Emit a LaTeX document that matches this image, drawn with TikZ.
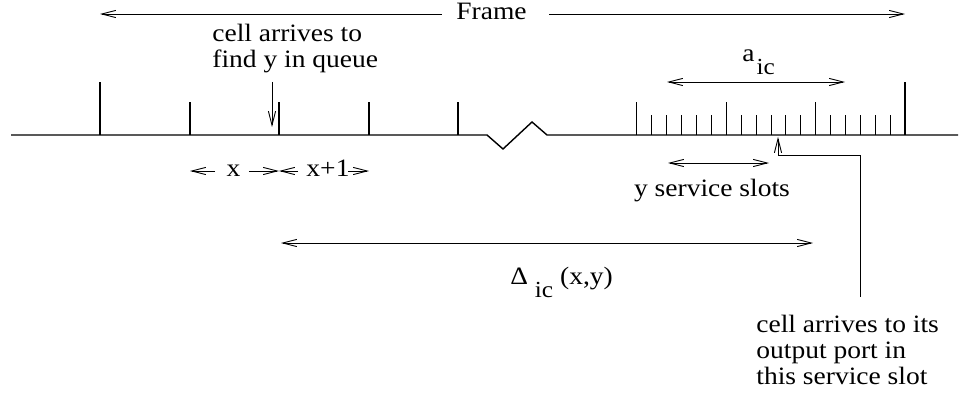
\documentclass[tikz,border=0pt]{standalone}
\usepackage{fontspec}
\setmainfont{Liberation Serif}[FakeStretch=1.1]
\usetikzlibrary{arrows.meta,positioning}
\newcommand{\lowsub}[1]{\raisebox{-6.3pt}{\fontsize{11.5}{13}\selectfont #1}}

\begin{document}
\begin{tikzpicture}[x=0.5pt, y=-0.5pt,
  axis/.style={line width=0.7pt},
  tick/.style={line width=0.6pt},
  minor/.style={line width=0.45pt},
  ptr/.style={line width=0.45pt, -{Straight Barb[length=7pt,width=3.6pt]}},
  dim/.style={line width=0.45pt, {Straight Barb[length=7pt,width=3.6pt]}-{Straight Barb[length=7pt,width=3.6pt]}},
  lbl/.style={font=\fontsize{12.5}{13}\selectfont, inner sep=0pt, align=left}]
  \useasboundingbox (0,0) rectangle (959,394);

  % time axis with the break
  \coordinate (start) at (11,135);
  \coordinate (brkL) at (487,135);
  \coordinate (brkR) at (547,135);
  \coordinate (stop) at (958,135);
  \draw[axis] (start) -- (brkL) -- (503,149) -- (532,122) -- (brkR) -- (stop);

  % frame boundaries and slots
  \coordinate (f0) at (100,135);
  \coordinate (f1) at (905,135);
  \draw[tick] (f0) -- ++(0,-53);
  \draw[tick] (f1) -- ++(0,-53);
  \foreach \x [count=\n] in {190,279,369,458}
    \draw[tick] (\x,135) coordinate (s\n) -- ++(0,-33);
  \foreach \i in {0,1,2} {
    \draw[tick] ({636.7+89.5*\i},135) -- ++(0,-33);
    \foreach \j in {1,...,5}
      \draw[minor] ({636.7+89.5*\i+14.92*\j},135) -- ++(0,-20);
  }

  % frame length
  \node[lbl, anchor=base] (frame) at (491.5,20) {Frame};
  \coordinate (fl) at (100,14);
  \coordinate (fr) at (905,14);
  \draw[ptr] ([xshift=-7pt]frame.west |- fl) -- (fl);
  \draw[ptr] ([xshift=11pt]frame.east |- fr) -- (fr);

  % arrival of the cell
  \node[lbl, anchor=base west] (arrive) at (212,68) {cell arrives to\\find y in queue};
  \coordinate (drop) at (272,127);
  \draw[ptr] (272,82) -- (drop);

  % slot widths
  \node[lbl] (xlab) at (233.5,171) {x};
  \node[lbl, anchor=base] (xonelab) at (328,177) {x+1};
  \draw[ptr] ([xshift=-5.5pt]xlab.west) -- (xlab.west -| s1);
  \draw[ptr] ([xshift=4pt]xlab.east) -- (xlab.east -| s2);
  \draw[ptr] ([xshift=-4pt]xonelab.west |- xlab.west) -- (xlab.west -| s2);
  \draw[ptr] ([xshift=-1pt]xonelab.east |- xlab.east) -- (xlab.east -| s3);

  % service slots
  \node[lbl, anchor=base west] (alab) at (742,62) {a\kern1pt\lowsub{ic}};
  \coordinate (aL) at (667,82);
  \coordinate (aR) at (845,82);
  \draw[dim] (aL) -- (aR);

  \coordinate (yL) at (668,163);
  \coordinate (yR) at (769,163);
  \draw[dim] (yL) -- (yR);
  \node[lbl, anchor=base] (ylab) at (712,197) {y service slots};

  % delay
  \coordinate (dL) at (281,243);
  \coordinate (dR) at (813,243);
  \draw[dim] (dL) -- (dR);
  \node[lbl, anchor=base west] (dlab) at (510,285) {Δ \lowsub{ic} (x,y)};

  % departure to the output port
  \node[lbl, anchor=base west] (outlab) at (756,385) {cell arrives to its\\output port in\\this service slot};
  \coordinate (hit) at (778,137);
  \coordinate (foot) at (860,297);
  \draw[ptr] (foot) -- (860,155) -| (hit);
\end{tikzpicture}
\end{document}
